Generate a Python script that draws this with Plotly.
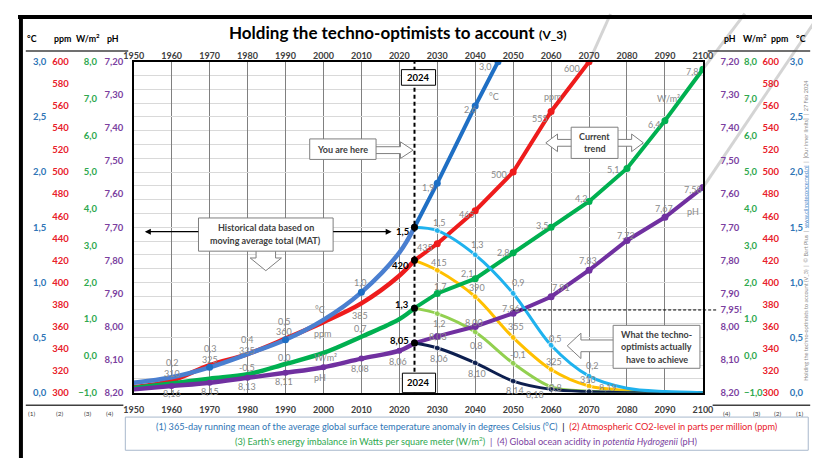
import plotly.graph_objects as go

# ---------------- data ----------------
hist_years = [1950, 1960, 1970, 1980, 1990, 2000, 2010, 2020, 2024]
hist_temp = [0.09, 0.14, 0.23, 0.35, 0.48, 0.66, 0.91, 1.27, 1.5]
hist_co2 = [305, 311, 325, 335, 349, 364, 381, 406, 420]
hist_eei = [-0.87, -0.75, -0.62, -0.5, -0.22, 0.08, 0.52, 1.0, 1.3]
hist_ph = [8.19, 8.18, 8.17, 8.155, 8.14, 8.123, 8.097, 8.073, 8.05]
hist_temp_marked = [1970, 1990, 2010]

trend_temp_years = [2024, 2030, 2040, 2046]
trend_temp = [1.5, 1.9, 2.6, 3.0]
trend_co2_years = [2024, 2030, 2040, 2050, 2060, 2070]
trend_co2 = [420, 435, 465, 500, 555, 600]
trend_years = [2024, 2030, 2040, 2050, 2060, 2070, 2080, 2090, 2100]
trend_eei = [1.3, 1.7, 2.1, 2.8, 3.5, 4.2, 5.1, 6.4, 7.8]
trend_ph = [8.05, 8.03, 8.00, 7.96, 7.91, 7.83, 7.74, 7.67, 7.58]

opt_years = [2024, 2030, 2040, 2050, 2060, 2070, 2080, 2090, 2100]
opt_temp = [1.5, 1.47, 1.25, 0.9, 0.43, 0.15, 0.04, 0.01, 0.0]
opt_co2 = [420, 411, 387, 350, 321, 306, 302, 300.5, 300]
opt_eei = [1.3, 1.15, 0.65, -0.2, -0.84, -0.96, -0.99, -1.0, -1.0]
opt_ph = [8.05, 8.065, 8.11, 8.165, 8.19, 8.197, 8.2, 8.2, 8.2]

now_year = 2024
ph_target = 7.95

# axis scales
temp_range = [0, 3]
co2_range = [300, 600]
eei_range = [-1, 8]
ph_range = [8.2, 7.2]
ph_ticks = [7.2, 7.3, 7.4, 7.5, 7.6, 7.7, 7.8, 7.9, 8.0, 8.1, 8.2]

# label texts
hist_label_text = ["0,2", "310", "0,3", "325", "0,4", "335", "0,5", "360", "1,0", "385",
                   "°C", "ppm", "W/m²", "pH", "-0,5", "0,0", "0,7",
                   "8,16", "8,15", "8,13", "8,11", "8,08", "8,06"]
future_label_text = ["3,0", "°C", "2,6", "1,9",
                     "600", "ppm", "555", "500", "465", "435",
                     "7,8", "W/m²", "6,4", "5,1", "4,2", "3,5", "2,8", "2,1", "1,7",
                     "7,58", "pH", "7,67", "7,72", "7,83", "7,91", "7,96", "8,00", "8,03",
                     "1,5", "1,3", "0,9", "0,5", "0,2",
                     "415", "390", "355", "325", "310",
                     "1,2", "0,8", "-0,1", "-0,8",
                     "8,06", "8,10", "8,14", "8,18", "8,19"]

# ---------------- colours / fonts ----------------
C_T, C_C, C_W, C_P = "#2e75b6", "#e8202a", "#2ea84e", "#7b3fa0"
L_T_HIST, L_T = "#4a7fd0", "#1f6fc4"
L_C, L_W, L_P = "#ee1c1c", "#00b050", "#7030a0"
O_T, O_C, O_W, O_P = "#1fb2ee", "#ffc000", "#92d050", "#0d1f4f"
FONT = "Lato, Calibri, Arial"
GRAY = "#8a8a8a"

W, H = 820, 458
X0, X1 = 118.6, 702.0
YT, YB = 49.0, 388.0


def px(x):
    return x / W


def py(y):
    return 1 - y / H


def xpix(year):
    return X0 + (year - 1950) / 150 * (X1 - X0)


def ypix(v, rng):
    t = (v - rng[0]) / (rng[1] - rng[0])
    return YB - t * (YB - YT)


dom_x = [px(X0), px(X1)]
dom_y = [py(YB), py(YT)]

fig = go.Figure()


def add_line(x, y, ax, color, width, shape="linear", msize=0, mcolor=None):
    fig.add_trace(go.Scatter(
        x=x, y=y, yaxis=ax, mode="lines+markers" if msize else "lines",
        line=dict(color=color, width=width, shape=shape, smoothing=1.0),
        marker=dict(size=msize, color=mcolor or color),
        showlegend=False, hoverinfo="skip"))


# historical
add_line(hist_years, hist_ph, "y4", L_P, 4.5, "spline")
add_line(hist_years, hist_eei, "y3", L_W, 4.5, "spline")
add_line(hist_years, hist_co2, "y2", L_C, 4.5, "spline")
add_line(hist_years, hist_temp, "y5", L_T_HIST, 4.5, "spline")
fig.add_trace(go.Scatter(x=hist_years[1:-1], y=hist_ph[1:-1], yaxis="y4", mode="markers",
                         marker=dict(size=6, color=L_P), showlegend=False, hoverinfo="skip"))
fig.add_trace(go.Scatter(x=hist_temp_marked,
                         y=[hist_temp[hist_years.index(v)] for v in hist_temp_marked],
                         yaxis="y5", mode="markers", marker=dict(size=7, color=L_T),
                         showlegend=False, hoverinfo="skip"))

# current trend
add_line(trend_years, trend_ph, "y4", L_P, 4, msize=7)
add_line(trend_years, trend_eei, "y3", L_W, 4, msize=7)
add_line(trend_co2_years, trend_co2, "y2", L_C, 4, msize=7)
add_line(trend_temp_years, trend_temp, "y5", L_T, 4, msize=7)

# techno-optimist paths
msz = [0, 6, 6, 6, 6, 6, 0, 0, 0]
for ys, ax, col in [(opt_ph, "y4", O_P), (opt_eei, "y3", O_W), (opt_co2, "y2", O_C), (opt_temp, "y5", O_T)]:
    fig.add_trace(go.Scatter(x=opt_years, y=ys, yaxis=ax, mode="lines+markers",
                             line=dict(color=col, width=3, shape="spline", smoothing=0.9),
                             marker=dict(size=msz, color=col), showlegend=False, hoverinfo="skip"))

# "now" markers
for ys, ax in [(hist_ph, "y4"), (hist_eei, "y3"), (hist_co2, "y2"), (hist_temp, "y5")]:
    fig.add_trace(go.Scatter(x=[now_year], y=[ys[-1]], yaxis=ax, mode="markers",
                             marker=dict(size=7, color="black"), showlegend=False, hoverinfo="skip"))

# dummy traces so that label-only axes are drawn
for ax in ["y", "y6", "y7", "y8", "y9"]:
    fig.add_trace(go.Scatter(x=[None], y=[None], yaxis=ax, showlegend=False, hoverinfo="skip"))
fig.add_trace(go.Scatter(x=[None], y=[None], xaxis="x2", yaxis="y", showlegend=False, hoverinfo="skip"))


def label_axis(rng, color, side, edge, fmt=None, dtick=None, tickvals=None, ticktext=None):
    pos = (edge + 2) / W if side == "left" else edge / W
    d = dict(overlaying="y", anchor="free", position=pos, side=side, range=rng,
             showgrid=False, zeroline=False, showline=False, ticks="",
             tickfont=dict(family=FONT, size=9.5, color=color, weight="bold"))
    if fmt:
        d["tickformat"] = fmt
    if dtick:
        d["dtick"] = dtick
        d["tick0"] = rng[0] if rng[0] < rng[1] else rng[1]
    if tickvals:
        d["tickmode"] = "array"
        d["tickvals"] = tickvals
        d["ticktext"] = ticktext
    return d


xtick = list(range(1950, 2101, 10))
fig.update_layout(
    width=W, height=H, margin=dict(l=0, r=0, t=0, b=0, pad=0),
    paper_bgcolor="white", plot_bgcolor="white", separators=",.",
    showlegend=False,
    xaxis=dict(domain=dom_x, range=[1950, 2100], tickmode="array", tickvals=xtick,
               showgrid=True, gridcolor="#808080", gridwidth=1.3, zeroline=False,
               showline=True, linecolor="black", linewidth=2, mirror=True,
               ticks="outside", ticklen=8, tickcolor="rgba(0,0,0,0)",
               tickfont=dict(family=FONT, size=9, color="#404040", weight="bold")),
    xaxis2=dict(overlaying="x", matches="x", side="top", anchor="y", range=[1950, 2100],
                tickmode="array", tickvals=xtick, showgrid=False, zeroline=False, ticks="",
                tickfont=dict(family=FONT, size=9, color="#404040", weight="bold")),
    yaxis=dict(domain=dom_y, range=temp_range, anchor="x", dtick=0.5, showgrid=True,
               gridcolor="#d9d9d9", gridwidth=1,
               minor=dict(dtick=0.125, showgrid=True, gridcolor="#d9d9d9", gridwidth=1),
               showticklabels=False, ticks="", zeroline=False,
               showline=True, linecolor="black", linewidth=2, mirror=True),
    yaxis2=label_axis(co2_range, C_C, "left", 50, fmt="d", dtick=20),
    yaxis3=label_axis(eei_range, C_W, "left", 79, fmt=".1f", dtick=1),
    yaxis4=label_axis(ph_range, C_P, "left", 106, fmt=".2f", tickvals=ph_ticks,
                      ticktext=[f"{v:.2f}".replace(".", ",") for v in ph_ticks]),
    yaxis5=label_axis(temp_range, C_T, "left", 27, fmt=".1f", dtick=0.5),
    yaxis6=label_axis(ph_range, C_P, "right", 719, tickvals=ph_ticks + [ph_target],
                      ticktext=[f"{v:.2f}".replace(".", ",") for v in ph_ticks] + ["7,95!"]),
    yaxis7=label_axis(eei_range, C_W, "right", 743, fmt=".1f", dtick=1),
    yaxis8=label_axis(co2_range, C_C, "right", 762, fmt="d", dtick=20),
    yaxis9=label_axis(temp_range, C_T, "right", 790, fmt=".1f", dtick=0.5),
)

shapes = []
ann = []


def P(pts):
    s = "M " + " L ".join(f"{px(x):.5f},{py(y):.5f}" for x, y in pts) + " Z"
    return s


def txt(x, y, s, color=GRAY, size=9, bold=False, xanchor="center", **kw):
    ann.append(dict(x=px(x), y=py(y), xref="paper", yref="paper",
                    text=f"<b>{s}</b>" if bold else s, showarrow=False,
                    xanchor=xanchor, yanchor="middle",
                    font=dict(family=FONT, size=size, color=color), **kw))


def rect(x0, y0, x1, y1, line="#7f7f7f", fill="white", width=1):
    shapes.append(dict(type="rect", xref="paper", yref="paper", x0=px(x0), x1=px(x1),
                       y0=py(y1), y1=py(y0), line=dict(color=line, width=width), fillcolor=fill))


def seg(x0, y0, x1, y1, color, width, dash=None, layer="above"):
    shapes.append(dict(type="line", xref="paper", yref="paper", x0=px(x0), y0=py(y0),
                       x1=px(x1), y1=py(y1), layer=layer,
                       line=dict(color=color, width=width, dash=dash)))


# faint continuation lines beyond the plot
ex, ey = xpix(trend_co2_years[-1]), ypix(trend_co2[-1], co2_range)
seg(ex, ey, ex + 22, ey - 49, "#d4d4d4", 3, layer="below")
ex, ey = xpix(trend_years[-1]), ypix(trend_eei[-1], eei_range)
seg(ex, ey, ex + 43, ey - 57, "#d4d4d4", 3, layer="below")
ex, ey = xpix(trend_years[-1]), ypix(trend_ph[-1], ph_range)
seg(ex, ey, ex + 118, ey - 175, "#d4d4d4", 3, layer="below")

# 2024 dashed line
shapes.append(dict(type="line", xref="x", yref="paper", x0=now_year, x1=now_year,
                   y0=dom_y[0], y1=dom_y[1], line=dict(color="black", width=2, dash="4px,3px")))
# pH 7.95 dashed target line
shapes.append(dict(type="line", xref="paper", yref="y4", x0=px(xpix(2050)), x1=px(717),
                   y0=ph_target, y1=ph_target, line=dict(color="black", width=1, dash="3px,2px")))

# block arrows
arrow_style = dict(type="path", xref="paper", yref="paper", fillcolor="white",
                   line=dict(color="#7f7f7f", width=1))
shapes.append(dict(path=P([(366, 136), (392, 136), (392, 131), (405, 139.5), (392, 148), (392, 143), (366, 143)]), **arrow_style))
shapes.append(dict(path=P([(244, 242), (264, 242), (264, 250), (270, 250), (254, 263), (238, 250), (244, 250)]), **arrow_style))
shapes.append(dict(path=P([(541, 132), (553, 123), (553, 128.5), (629, 128.5), (629, 123), (641, 132),
                           (629, 141), (629, 135.5), (553, 135.5), (553, 141)]), **arrow_style))
shapes.append(dict(path=P([(563, 340), (577, 327), (577, 334), (612, 334), (612, 346), (577, 346), (577, 353)]), **arrow_style))

# call-out boxes
rect(299, 128, 367, 149)
rect(185, 209, 323, 243)
rect(567, 116, 615, 148)
rect(610, 319, 699, 363)
rect(393, 57, 428, 73, line="black")
rect(394, 368, 428, 388, line="black")

txt(333, 138.5, "You are here", "#404040", 9, True)
txt(254, 219, "Historical data based on", "#404040", 9, True)
txt(254, 232, "moving average total (MAT)", "#404040", 9, True)
txt(591, 126, "Current", "#404040", 9, True)
txt(591, 138, "trend", "#404040", 9, True)
txt(654.5, 328, "What the techno-", "#404040", 9, True)
txt(654.5, 341, "optimists actually", "#404040", 9, True)
txt(654.5, 354, "have to achieve", "#404040", 9, True)
txt(410.5, 65, "2024", "black", 9.5, True)
txt(411, 378, "2024", "black", 9.5, True)

# black double arrow for historical period
ann.append(dict(x=px(130), y=py(223), xref="paper", yref="paper", ax=55, ay=0, text="",
                showarrow=True, arrowhead=2, arrowsize=1, arrowwidth=1.2, arrowcolor="black"))
ann.append(dict(x=px(383), y=py(223), xref="paper", yref="paper", ax=-60, ay=0, text="",
                showarrow=True, arrowhead=2, arrowsize=1, arrowwidth=1.2, arrowcolor="black"))

# gray value labels
hist_pos = [(158, 357), (158, 368), (197, 343), (197, 354), (235, 333), (235, 345), (273, 315), (273, 325),
            (351, 275), (351, 309), (310, 303), (313, 327), (315, 352), (310, 372), (235, 362),
            (273, 352), (351, 322), (158, 389), (197, 387), (235, 382), (273, 377), (351, 363), (389, 356)]
for s, (x, y) in zip(hist_label_text, hist_pos):
    txt(x, y, s)
future_pos = [(479, 54), (488, 85), (463, 98), (420, 178),
              (568, 56), (548, 85), (535, 107), (493, 164), (460, 205), (417, 239),
              (691, 59), (667, 87), (652, 113), (610, 159), (577, 189), (537, 217), (497, 244), (460, 266), (433, 279),
              (692, 180), (692, 202), (662, 199), (623, 227), (584, 253), (557, 280), (505, 302), (467, 316), (430, 330),
              (432, 214), (470, 236), (512, 275), (550, 332), (588, 360),
              (432, 255), (470, 280), (510, 320), (549, 356), (584, 375),
              (432, 317), (469, 340), (512, 349), (549, 383),
              (432, 353), (470, 368), (509, 386), (530, 390), (605, 383)]
for s, (x, y) in zip(future_label_text, future_pos):
    txt(x, y, s)

# bold "now" values
for s, y in [("1,5", 223), ("420", 258), ("1,3", 298), ("8,05", 335)]:
    txt(403, y, s, "black", 9.5, True, xanchor="right")

# title
txt(390, 19, "<b>Holding the techno-optimists to account</b> <span style='font-size:12px'><b>(V_3)</b></span>",
    "black", 17)

# axis headers
for s, x in [("°C", 14), ("ppm", 46), ("W/m<sup>2</sup>", 72), ("pH", 97),
             ("pH", 730), ("W/m<sup>2</sup>", 755), ("ppm", 781), ("°C", 803)]:
    txt(x, 25, s, "black", 8.8, True)
seg(8, 38, 113, 38, "#404040", 1.5)
seg(707, 38, 812, 38, "#404040", 1.5)
seg(8, 401, 108, 401, "#404040", 1.5)
seg(712, 401, 812, 401, "#404040", 1.5)
for s, x in [("(1)", 14), ("(2)", 43), ("(3)", 72), ("(4)", 94),
             ("(4)", 727), ("(3)", 757), ("(2)", 779), ("(1)", 802)]:
    txt(x, 409, s, "#404040", 6.5)

# legend box
rect(110, 413, 810, 447, line="#a8b8cc")
txt(460, 422.5,
    f"<span style='color:{C_T}'>(1) 365-day running mean of the average global surface temperature anomaly in degrees Celsius (°C)</span>"
    f"  <span style='color:black'>|</span>  "
    f"<span style='color:{C_C}'>(2) Atmospheric CO2-level in parts per million (ppm)</span>",
    C_T, 9.2)
txt(460, 437.5,
    f"<span style='color:{C_W}'>(3) Earth's energy imbalance in Watts per square meter (W/m<sup>2</sup>)</span>"
    f"  <span style='color:{C_P}'>|</span>  "
    f"<span style='color:{C_P}'>(4) Global ocean acidity in <i>potentia Hydrogenii</i> (pH)</span>",
    C_P, 9.2)

# vertical credit line
ann.append(dict(x=px(812), y=py(222), xref="paper", yref="paper", textangle=-90, showarrow=False,
                text="Holding the techno-optimists to account (V_3)  |  © Bart Plus  |  "
                     "<span style='color:#4a86c8'><u>www.climateconcerned.nl</u></span>  |  [Our inner limits]  |  27 Feb 2024",
                font=dict(family=FONT, size=5.5, color="#8a8a8a")))

# outer frame
seg(0, 3, 820, 3, "black", 4)
seg(3, 3, 3, 458, "black", 4)

fig.update_layout(shapes=shapes, annotations=ann)
fig.write_html("out.html")
